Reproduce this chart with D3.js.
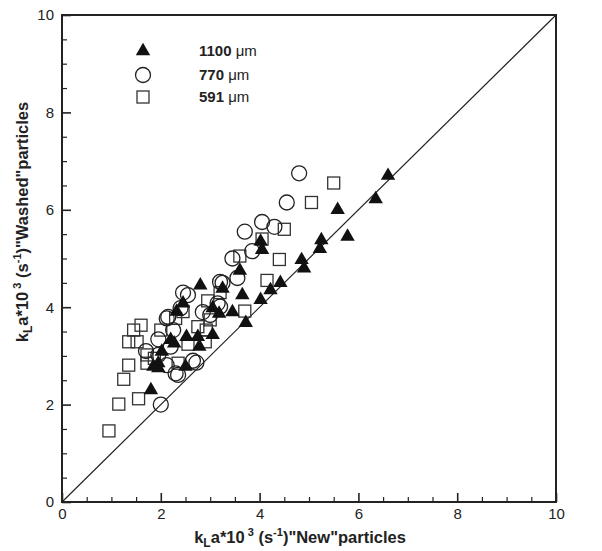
<!DOCTYPE html>
<html>
<head>
<meta charset="utf-8">
<script src="https://cdn.jsdelivr.net/npm/d3@7"></script>
<style>
  body { margin: 0; background: #fff; }
  text { font-family: "Liberation Sans", Arial, sans-serif; fill: #222; }
</style>
</head>
<body>
<svg width="602" height="551"></svg>
<script>
// kLa values, "New" particles (x) vs "Washed" particles (y)
var tri1100 = [
  [6.6, 6.7], [6.35, 6.22], [5.58, 6.0], [5.78, 5.45], [5.25, 5.38], [5.22, 5.2],
  [4.85, 4.97], [4.9, 4.8], [4.42, 4.5], [4.22, 4.35], [4.02, 4.15], [3.72, 3.68],
  [3.6, 4.75], [4.02, 5.35], [4.05, 5.18], [3.45, 3.9], [3.25, 4.38], [2.8, 4.45],
  [3.65, 4.25], [2.45, 4.08], [2.32, 3.91], [3.05, 3.98], [3.18, 3.87], [2.75, 3.39],
  [3.05, 3.43], [2.52, 3.39], [2.2, 3.33], [2.27, 3.26], [2.78, 3.19], [2.02, 3.09],
  [1.95, 2.85], [1.85, 2.78], [1.95, 2.75], [2.5, 2.78], [1.8, 2.3]
];
var circ770 = [
  [4.8, 6.75], [4.55, 6.15], [4.05, 5.75], [4.3, 5.65], [3.7, 5.55], [3.85, 5.15],
  [3.45, 5.0], [3.55, 4.6], [3.2, 4.52], [3.25, 4.5], [2.45, 4.3], [2.55, 4.25],
  [3.15, 4.08], [3.2, 4.01], [2.4, 3.98], [2.85, 3.9], [3.0, 3.84], [2.15, 3.8],
  [2.12, 3.77], [2.25, 3.53], [1.95, 3.34], [2.2, 3.19], [1.7, 3.1], [1.95, 3.02],
  [2.12, 2.81], [2.3, 2.64], [2.35, 2.61], [2.65, 2.9], [2.72, 2.86], [2.0, 2.0]
];
var sq591 = [
  [5.5, 6.55], [5.05, 6.15], [4.5, 5.6], [4.05, 5.4], [3.6, 5.05], [4.4, 4.98],
  [4.15, 4.55], [3.2, 4.3], [2.95, 4.13], [3.7, 3.92], [2.45, 3.91], [2.3, 3.77],
  [3.0, 3.74], [1.6, 3.63], [1.45, 3.53], [2.0, 3.53], [2.75, 3.6], [2.92, 3.53],
  [1.35, 3.29], [1.52, 3.29], [2.55, 3.24], [2.9, 3.29], [1.72, 3.02], [1.87, 2.95],
  [1.35, 2.81], [1.72, 2.85], [2.35, 2.85], [1.25, 2.52], [1.55, 2.12], [1.15, 2.01],
  [0.95, 1.46]
];
var majorTicks = [0, 2, 4, 6, 8, 10];
var legendLabels = ["1100", "770", "591"];

var svg = d3.select("svg");
var mLeft = 62, mRight = 556, mTop = 15, mBottom = 502;

var x = d3.scaleLinear().domain([0, 10]).range([mLeft, mRight]);
var y = d3.scaleLinear().domain([0, 10]).range([mBottom, mTop]);

// minor ticks every 0.5, inward
var minor = d3.range(0.5, 10, 0.5).filter(function(v) { return v % 2 !== 0; });

function styleTicks(g, w) {
    g.select(".domain").remove();
    g.selectAll("line").attr("stroke", "#222").attr("stroke-width", w);
    g.selectAll("text").attr("font-size", 15).attr("fill", "#222")
        .attr("font-family", "Liberation Sans, Arial, sans-serif");
}

svg.append("g")
    .attr("transform", "translate(0," + mBottom + ")")
    .call(d3.axisBottom(x).tickValues(minor).tickSize(-5).tickFormat(""))
    .call(styleTicks, 1.2);
svg.append("g")
    .attr("transform", "translate(0," + mBottom + ")")
    .call(d3.axisBottom(x).tickValues(majorTicks).tickSize(-9).tickPadding(6))
    .call(styleTicks, 1.6);

svg.append("g")
    .attr("transform", "translate(" + mLeft + ",0)")
    .call(d3.axisLeft(y).tickValues(minor).tickSize(-5).tickFormat(""))
    .call(styleTicks, 1.2);
svg.append("g")
    .attr("transform", "translate(" + mLeft + ",0)")
    .call(d3.axisLeft(y).tickValues(majorTicks).tickSize(-9).tickPadding(8))
    .call(styleTicks, 1.6);

// frame
svg.append("rect")
    .attr("x", mLeft).attr("y", mTop)
    .attr("width", mRight - mLeft).attr("height", mBottom - mTop)
    .attr("fill", "none").attr("stroke", "#222").attr("stroke-width", 2);

// y = x line
svg.append("line")
    .attr("x1", x(0)).attr("y1", y(0)).attr("x2", x(10)).attr("y2", y(10))
    .attr("stroke", "#222").attr("stroke-width", 1.2);

var plot = svg.append("g");

plot.selectAll(".sq").data(sq591).enter().append("rect")
    .attr("x", function(d) { return x(d[0]) - 6; })
    .attr("y", function(d) { return y(d[1]) - 6; })
    .attr("width", 12).attr("height", 12)
    .attr("fill", "none").attr("stroke", "#333").attr("stroke-width", 1.3);

plot.selectAll(".ci").data(circ770).enter().append("circle")
    .attr("cx", function(d) { return x(d[0]); })
    .attr("cy", function(d) { return y(d[1]); })
    .attr("r", 7.5)
    .attr("fill", "none").attr("stroke", "#222").attr("stroke-width", 1.3);

var tri = d3.symbol().type(d3.symbolTriangle).size(90);
plot.selectAll(".tr").data(tri1100).enter().append("path")
    .attr("d", tri)
    .attr("transform", function(d) { return "translate(" + x(d[0]) + "," + y(d[1]) + ")"; })
    .attr("fill", "#111");

// legend
var leg = svg.append("g");
var ly = [51, 75, 97];
leg.append("path").attr("d", tri).attr("transform", "translate(143," + ly[0] + ")").attr("fill", "#111");
leg.append("circle").attr("cx", 143).attr("cy", ly[1]).attr("r", 7.5)
    .attr("fill", "none").attr("stroke", "#222").attr("stroke-width", 1.3);
leg.append("rect").attr("x", 137).attr("y", ly[2] - 6).attr("width", 12).attr("height", 12)
    .attr("fill", "none").attr("stroke", "#333").attr("stroke-width", 1.3);
legendLabels.forEach(function(l, i) {
    var t = leg.append("text").attr("x", 199).attr("y", ly[i] + 5).attr("font-size", 15);
    t.append("tspan").attr("font-weight", "bold").text(l + " ");
    t.append("tspan").text("\u03bcm");
});

// axis titles
function title(sel, word) {
    sel.append("tspan").text("k");
    sel.append("tspan").attr("font-size", 12).attr("dy", 4).text("L");
    sel.append("tspan").attr("dy", -4).text("a*10");
    sel.append("tspan").attr("font-size", 11).attr("dy", -7).text(" 3");
    sel.append("tspan").attr("dy", 7).text(" (s");
    sel.append("tspan").attr("font-size", 11).attr("dy", -7).text("-1");
    sel.append("tspan").attr("dy", 7).text(")\"" + word + "\"particles");
}
var xt = svg.append("text").attr("x", 300).attr("y", 543)
    .attr("text-anchor", "middle").attr("font-size", 16.5).attr("font-weight", "bold");
title(xt, "New");
var yt = svg.append("text").attr("transform", "translate(28,222) rotate(-90)")
    .attr("text-anchor", "middle").attr("font-size", 16.5).attr("font-weight", "bold");
title(yt, "Washed");
</script>
</body>
</html>
